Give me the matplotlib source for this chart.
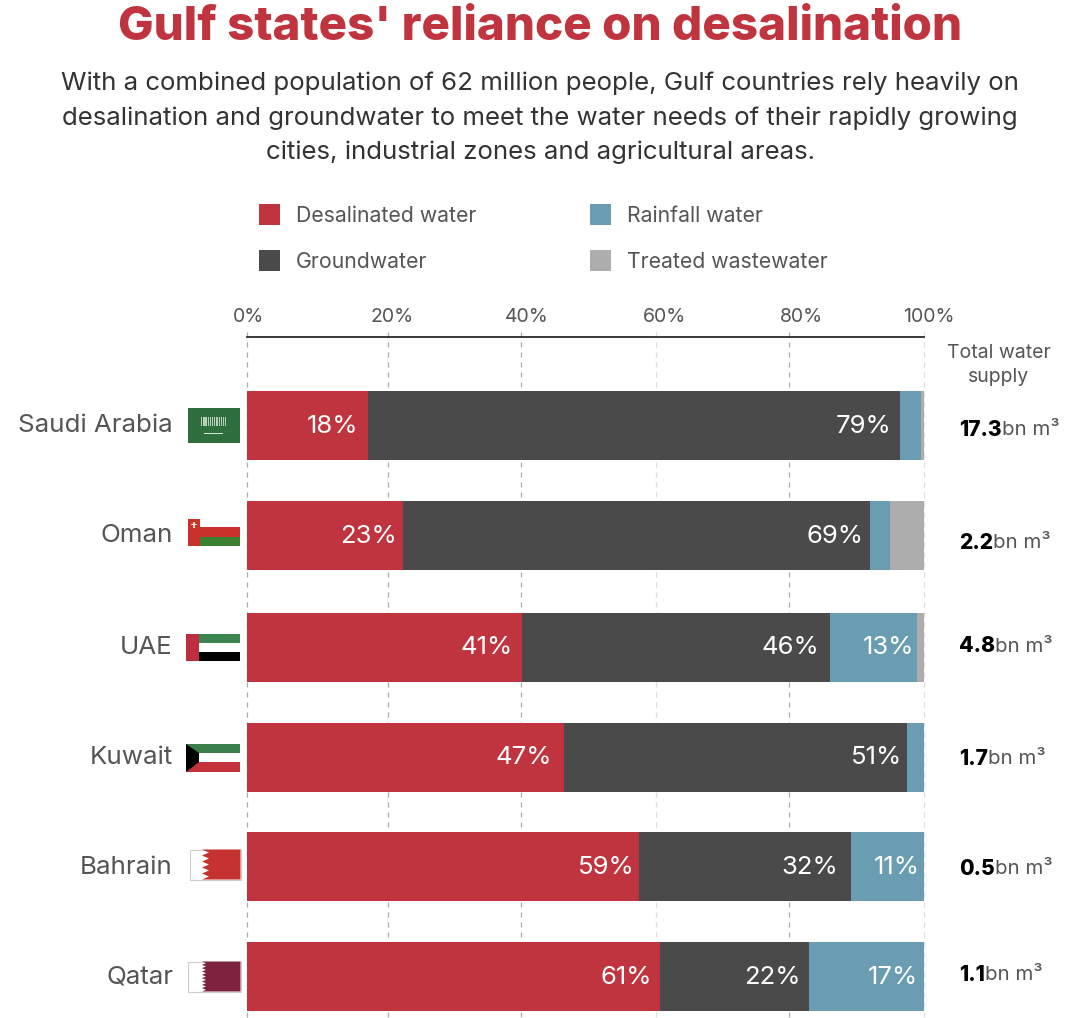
import numpy as np
import matplotlib
matplotlib.use('Agg')
import matplotlib.pyplot as plt
from matplotlib.patches import Rectangle, Polygon

plt.rcParams['font.family'] = ['Inter', 'DejaVu Sans']

countries = ['Saudi Arabia', 'Oman', 'UAE', 'Kuwait', 'Bahrain', 'Qatar']
desalinated = [18, 23, 41, 47, 59, 61]
groundwater = [79, 69, 46, 51, 32, 22]
rainfall = [3, 3, 13, 2.5, 11, 17]
treated = [0.5, 5, 1, 0, 0, 0]
total_supply = ['17.3', '2.2', '4.8', '1.7', '0.5', '1.1']
tick_labels = ['0%', '20%', '40%', '60%', '80%', '100%']
series_names = ['Desalinated water', 'Groundwater', 'Rainfall water', 'Treated wastewater']

RED = '#c0343f'
DARK = '#4a4a4a'
BLUE = '#6a9db2'
GREY = '#adadad'
TEXT = '#555555'

W, H = 1068, 1018
fig = plt.figure(figsize=(W / 100, H / 100), dpi=100)

# overlay in pixel coordinates for the headings, legend and flags
bg = fig.add_axes([0, 0, 1, 1])
bg.set_xlim(0, W)
bg.set_ylim(H, 0)
bg.axis('off')

bg.text(540, 28, "Gulf states' reliance on desalination", color=RED, fontsize=34.2,
        fontweight='heavy', ha='center', va='center')
sub = ['With a combined population of 62 million people, Gulf countries rely heavily on',
       'desalination and groundwater to meet the water needs of their rapidly growing',
       'cities, industrial zones and agricultural areas.']
for line, y in zip(sub, [83.5, 118.5, 152.5]):
    bg.text(540, y, line, color='#333333', fontsize=18.6, ha='center', va='center')

# legend
legend_pos = [(259, 214), (259, 260), (590, 214), (590, 260)]
for name, col, (x, y) in zip(series_names, [RED, DARK, BLUE, GREY], legend_pos):
    bg.add_patch(Rectangle((x, y - 10.5), 21, 21, color=col, lw=0))
    bg.text(x + 37, y + 1.5, name, color=TEXT, fontsize=15.3, va='center')

# bars
ax = fig.add_axes([247 / W, 1 - 1018 / H, (924 - 247) / W, (1018 - 337) / H])
ax.set_xlim(0, 100)
ax.set_ylim(1018, 337)
ax.patch.set_alpha(0)

centers = [425.5, 535.5, 647, 757, 866.5, 976.5]
d = np.array(desalinated, dtype=float)
g = np.array(groundwater, dtype=float)
r = np.array(rainfall, dtype=float)
t = np.array(treated, dtype=float)
# labels are rounded, so each row is scaled to its own total
row_total = d + g + r + t
left = np.zeros(len(countries))
# space between a value label and the end of its segment, in pixels
label_gaps = [[10, 6, 9, 12, 4, 8],
              [9, 6, 11, 5, 13, 8],
              [0, 0, 3, 0, 4, 6],
              [0, 0, 0, 0, 0, 0]]
for vals, col, gaps in zip([d, g, r, t], [RED, DARK, BLUE, GREY], label_gaps):
    share = vals / row_total * 100
    ax.barh(centers, share, left=left, height=69, color=col, lw=0, zorder=3)
    for c, v, lab, l, gap in zip(centers, share, vals, left, gaps):
        if lab >= 11:
            ax.text(l + v - gap * 100 / 677, c + 0.5, f'{lab:.0f}%', color='white', fontsize=18.5,
                    ha='right', va='center', zorder=4)
    left = left + share

# dashed guides and the top rule
guide_pos = [0, 20.8, 40.5, 60.4, 80, 100]
guide_col = ['#aaaaaa', '#aaaaaa', '#aaaaaa', '#dddddd', '#aaaaaa', '#dddddd']
for px, col in zip(guide_pos, guide_col):
    ax.vlines(px, 332, 1018, color=col, lw=0.9, ls=(0, (4, 4)), zorder=1, clip_on=False)
ax.set_xticks([])
ax.set_yticks([])
for side in ['left', 'right', 'bottom']:
    ax.spines[side].set_visible(False)
ax.spines['top'].set_color('#2b2b2b')
ax.spines['top'].set_linewidth(1.3)

for lab, x in zip(tick_labels, [248, 392, 527, 664, 801, 929]):
    bg.text(x, 316.5, lab, color=TEXT, fontsize=14, ha='center', va='center')

bg.text(999, 352.5, 'Total water', color=TEXT, fontsize=14, ha='center', va='center')
bg.text(999, 377.5, 'supply', color=TEXT, fontsize=14, ha='center', va='center')

# country names and supply totals
supply_y = [430, 543, 646.5, 759, 869, 975]
for name, c, val, sy in zip(countries, centers, total_supply, supply_y):
    bg.text(173, c + 0.5, name, color=TEXT, fontsize=18.7, ha='right', va='center')
    tx = bg.text(959, sy, val, color='black', fontsize=15.2, fontweight='heavy', va='center')
    bb = tx.get_window_extent(fig.canvas.get_renderer())
    bg.text(bb.x1 * W / fig.bbox.width, sy, 'bn m³', color=TEXT, fontsize=14.7, va='center')


def jagged(x, y0, y1, pts, depth):
    # serrated edge used on the Bahrain and Qatar flags
    ys = np.linspace(y0, y1, pts * 2 + 1)
    return [(x + (depth if i % 2 else 0), yy) for i, yy in enumerate(ys)]


# flags
bg.add_patch(Rectangle((188, 408), 52, 35, color='#2f6f3e', lw=0))
for sx in np.arange(201, 227, 2.2):
    bg.add_patch(Rectangle((sx, 417), 1.3, 9, color='#dce8dd', lw=0, alpha=0.8))
bg.add_patch(Rectangle((204, 433), 19, 1.2, color='#d7e5d8', lw=0))

bg.add_patch(Rectangle((188, 519), 12, 27, color='#c8322b', lw=0))
bg.add_patch(Rectangle((200, 527), 40, 9.5, color='#c8322b', lw=0))
bg.add_patch(Rectangle((200, 536.5), 40, 9.5, color='#3a8030', lw=0))
bg.add_patch(Rectangle((193.3, 521.5), 1.2, 6, color='#f2d8c8', lw=0))
bg.add_patch(Rectangle((191, 524), 6, 1.2, color='#f2d8c8', lw=0))

bg.add_patch(Rectangle((199, 634), 41, 9, color='#3a8550', lw=0))
bg.add_patch(Rectangle((199, 652), 41, 9, color='black', lw=0))
bg.add_patch(Rectangle((186, 634), 13, 27, color='#bd2f3e', lw=0))

bg.add_patch(Rectangle((186, 744), 54, 9, color='#3a7f4c', lw=0))
bg.add_patch(Rectangle((186, 762), 54, 10, color='#c5323a', lw=0))
bg.add_patch(Polygon([(186, 744), (199, 753), (199, 762), (186, 772)], color='black', lw=0))

bg.add_patch(Rectangle((189.5, 849.5), 51, 30, facecolor='white', edgecolor='#cccccc', lw=0.8))
bg.add_patch(Polygon(jagged(202, 849.5, 879.5, 5, 7) + [(240.5, 879.5), (240.5, 849.5)],
                     color='#c5322f', lw=0))

bg.add_patch(Rectangle((187.5, 961.5), 53, 30, facecolor='white', edgecolor='#cccccc', lw=0.8))
bg.add_patch(Polygon(jagged(202, 961.5, 991.5, 9, 4) + [(240.5, 991.5), (240.5, 961.5)],
                     color='#7d2340', lw=0))

fig.savefig('out.png', dpi=100)
